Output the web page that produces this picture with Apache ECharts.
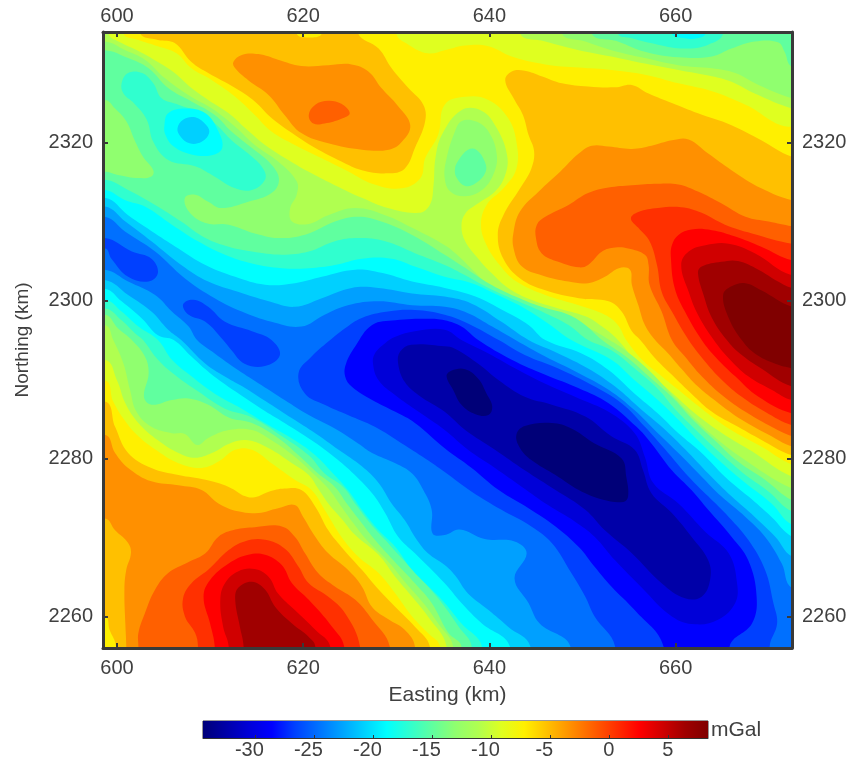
<!DOCTYPE html>
<html><head><meta charset="utf-8">
<style>html,body{margin:0;padding:0;background:#fff}#c{width:856px;height:763px}</style>
<script src="https://cdn.jsdelivr.net/npm/echarts@6/dist/echarts.min.js"></script></head>
<body><div id="c"></div><script>
// Band colours, low to high (2 mGal bands)
const bandColors=['#000078','#0000a8','#0000d8','#0000ff','#0040ff','#0070ff','#00a0ff','#00d0ff','#00ffff','#30ffcf','#60ff9f','#90ff6f','#b0ff50','#dfff20','#fff000','#ffc000','#ff9000','#ff6000','#ff3000','#ff0000','#d00000','#a00000','#800000'];
const baseBand=13;
const xTicks=[600,620,640,660];
const yTicks=[2260,2280,2300,2320];
const barTicks=[-30,-25,-20,-15,-10,-5,0,5];
const barRange=[-34.4,8.4];
// Contour rings in km (easting, northing); points beyond the frame only close a ring and are clipped
const hi14N=[[600.7,2333.8],[602.3,2333],[604.4,2332.2],[606.4,2331.3],[608,2329.4],[610.2,2327.9],[612.7,2325.8],[614.8,2323.5],[616.6,2321.4],[619.1,2319.7],[622,2318],[624.9,2316.3],[627.4,2314.8],[630.6,2314.2],[632.6,2315.5],[633.1,2318],[634.5,2321],[635.2,2324.8],[637.4,2325.8],[639.9,2325.4],[642,2323.1],[642.9,2320.1],[642.9,2316.7],[641.5,2314.2],[639.7,2312.1],[639.1,2309.6],[639.7,2307],[641.1,2304.5],[642.9,2302.4],[646,2300.7],[649.6,2299.4],[652.4,2298.2],[653.8,2296.9],[654.7,2295],[656.4,2292.5],[658.1,2290.8],[660.3,2288.7],[662.8,2286.3],[665.7,2283.8],[669.2,2281.5],[672.5,2279.2],[680,2276],[680,2325],[672.5,2322],[667.5,2324.8],[663.9,2326.5],[660.3,2327.5],[656.7,2328.6],[653.1,2329.2],[649.6,2329.5],[646,2329.9],[642.4,2330.9],[639.9,2332.2],[637.4,2332.3],[635.2,2331.7],[633.4,2331.3],[631.3,2332.4],[630,2333.8],[630,2340],[600.7,2340]];
const hi14SW=[[598.7,2289.9],[599.6,2287.2],[600.9,2284.7],[602.3,2282.8],[604.4,2280.9],[606.6,2279.4],[609.1,2278.8],[610.9,2279.6],[612.7,2281.1],[614.5,2281.1],[616.6,2279.4],[619.1,2277.3],[620.9,2276],[622.3,2273.5],[624.1,2270.1],[625.9,2267.6],[628.1,2265.5],[629.9,2262.9],[631.7,2260],[633.4,2257.9],[634.7,2256.2],[634.7,2250],[590,2250],[590,2290]];
const hi14Corner=[[598.7,2260],[599.2,2258.3],[599.9,2256.2],[599.9,2250],[590,2250],[590,2260]];
const hi15N=[[602.5,2333.8],[604.4,2333],[606.2,2332.6],[608,2330.2],[609.8,2328.8],[612.7,2326.9],[614.8,2325.2],[616.6,2323.1],[618.8,2321.2],[621.3,2319.3],[624.1,2317.6],[626.3,2316.5],[629.1,2316.1],[630.9,2316.7],[632,2319.3],[633.1,2322.7],[632.9,2324.8],[631.3,2326.9],[629.5,2329.4],[628.1,2331.9],[625.9,2333.8],[625.9,2338],[622,2338],[622,2333.8],[620.6,2333.3],[619.3,2333.8],[619.3,2338],[602.5,2338]];
const hi15E=[[641.7,2327.9],[642.4,2329],[643.8,2329.1],[645.6,2328.4],[647.8,2327.5],[650.6,2327.1],[653.5,2327],[655.3,2327.3],[657.1,2326.2],[659.6,2325],[662.4,2323.7],[666,2322.2],[669.2,2320.3],[672.5,2318.2],[680,2316],[680,2278],[672.5,2280.4],[669.6,2282.1],[666.7,2284],[663.9,2285.9],[661.7,2288.2],[659.6,2290.6],[657.8,2292.7],[656.2,2295],[655.3,2296.1],[654.2,2298.6],[652.8,2299.9],[649.6,2300.3],[646,2301.3],[643.3,2302.8],[641.5,2305.3],[640.9,2308.3],[641.5,2310.8],[643.3,2314.2],[644.5,2316.7],[644.8,2318.9],[644.2,2321],[643.6,2323.5],[642.6,2325.6]];
const hi15SW=[[598.7,2287.2],[599.8,2284],[601.2,2280.7],[603.7,2278.8],[606.6,2277.9],[609.5,2277.3],[612,2276.4],[613.8,2275.2],[614.8,2275.1],[616.3,2275.8],[618,2276.2],[619.8,2276],[621.3,2273.9],[622.7,2270.9],[624.1,2268.8],[626.3,2265.9],[628.1,2263.4],[629.9,2261.2],[632,2258.7],[633.6,2256.2],[633.6,2250],[590,2250],[590,2287]];
const hi16N=[[612.5,2330.2],[613.4,2331.1],[615.2,2331.2],[617.3,2330.5],[619.8,2329.7],[622.7,2329.8],[625.2,2329.9],[627,2329],[628.4,2326.9],[630.2,2324.6],[631.5,2322.2],[630.6,2320.1],[629.2,2319.1],[626.3,2319.1],[622.7,2319.9],[619.8,2321.2],[618,2323.5],[616.3,2326],[614.1,2327.9],[612.7,2329.4]];
const hi16E=[[647.6,2316.3],[649.6,2318.6],[651,2319.6],[652.8,2319.5],[655.3,2319.2],[657.4,2319.6],[659.6,2320.3],[661.4,2320.4],[663.5,2318.6],[666,2316.5],[669.2,2314.2],[672.5,2312.7],[680,2311],[680,2279],[672.5,2281.5],[670,2283],[667.1,2284.9],[664.6,2287],[662.4,2289.1],[660.6,2291.4],[659.2,2293.3],[657.8,2295],[656.7,2296.9],[656,2299.4],[655.3,2302],[655.1,2303.9],[653.9,2304.1],[652.4,2303],[650.6,2302.2],[648.5,2302.4],[645.6,2303.2],[643.5,2304.3],[642.6,2306.6],[642.6,2308.7],[643.3,2311.3],[645.3,2313.8]];
const hi16SW=[[598.7,2283],[599.8,2280.7],[601.2,2278.8],[603.7,2277.1],[606.6,2276.6],[609.1,2276],[610.9,2274.3],[613,2273.3],[615.2,2273.1],[617.3,2273.7],[619.1,2274.1],[620,2272.6],[621.3,2270.1],[622.7,2268],[624.8,2265.9],[626.3,2263.8],[627.4,2261.2],[629.2,2259.6],[630.9,2258.3],[632,2256.2],[632,2250],[601,2250],[601,2256.2],[600.9,2259.1],[600.8,2263.4],[601,2265.9],[601.5,2268],[601.2,2269.3],[599.8,2270.9],[598.7,2272.4],[590,2272],[590,2283]];
const hi17N=[[620.6,2323.5],[621.3,2324.8],[622.7,2325.3],[624.1,2324.9],[625,2323.7],[624.1,2323],[622.3,2322.4],[621.1,2322.4]];
const hi17E=[[645.1,2309.6],[646,2310.6],[648.5,2312.1],[650.6,2313.6],[652.8,2314.3],[655.3,2314.6],[658.1,2314.8],[660.3,2314.7],[662.4,2313.8],[664.9,2312.3],[667.5,2310.6],[670,2310],[672.5,2309.4],[680,2308],[680,2280],[672.5,2282.8],[670,2284.2],[667.5,2285.9],[665,2288],[662.8,2290.4],[661,2292.9],[659.6,2295],[658.5,2298.6],[657.2,2302],[657.1,2304.5],[656.7,2305.8],[654.9,2306.6],[653.5,2306.7],[652.1,2306.2],[650.6,2304.5],[649.6,2304.2],[647.4,2304.9],[645.6,2306],[645,2307.9]];
const hi17SW=[[602.3,2256.2],[602.3,2257.9],[603,2260.4],[604.1,2263.4],[605.5,2265.5],[607.7,2266.9],[609.5,2268],[610.9,2270.1],[612.7,2271],[614.8,2271.3],[617.7,2271.4],[619.1,2270.1],[620.2,2268],[621.6,2265.5],[623.4,2263.8],[625.6,2262.1],[627.4,2259.6],[629.3,2256.2],[629.3,2250],[602.3,2250]];
const hi18E=[[655.2,2310.4],[656,2311.2],[658.1,2311.7],[660.6,2311.8],[662.8,2311.1],[665.3,2309.6],[668.2,2308.5],[672.5,2307.2],[680,2306],[680,2282],[672.5,2284.2],[669.6,2285.9],[667.1,2287.8],[665,2289.9],[663,2292.5],[661.4,2295],[659.6,2298.6],[658.5,2301.1],[658,2304.5],[657.2,2307.5],[656,2309.2]];
const hi18SW=[[608.7,2256.2],[608.4,2257.9],[607.3,2260],[607.1,2262.3],[608,2264.2],[609.8,2265.9],[612,2268.4],[613.7,2269.5],[615.9,2269.7],[618,2268.6],[619.5,2266.3],[620.6,2264.2],[622.7,2262.5],[624.5,2260.4],[626.1,2256.2],[626.1,2250],[608.7,2250]];
const hi19E=[[659.5,2305.3],[659.6,2307],[660.3,2308.3],[661.7,2309],[663.9,2308.9],[666.4,2308.1],[669.2,2306.8],[672.5,2305.1],[680,2304],[680,2284],[672.5,2285.7],[668.9,2287.8],[666.4,2290.4],[664.4,2292.7],[662.8,2295],[661,2298.6],[659.9,2301.6]];
const hi19SW=[[610.5,2256.2],[610,2259.1],[609.3,2262.5],[610,2264.6],[612,2266.7],[614.1,2267.8],[615.9,2267.8],[617.7,2266.5],[618.8,2264.2],[620.6,2262.1],[623.1,2258.7],[624.4,2256.2],[624.4,2250],[610.5,2250]];
const hi20E=[[660.6,2304.5],[661.4,2306.2],[663.2,2307],[665.7,2307.2],[668.5,2306],[672.5,2303.2],[680,2302],[680,2286],[672.5,2287.4],[670.3,2288.7],[667.8,2290.4],[665.7,2292.7],[664.1,2295],[662.4,2298.2],[661.4,2301.1]];
const hi20SW=[[612,2256.2],[611.4,2258.7],[611.1,2262.1],[611.6,2264.2],[613,2265.7],[614.8,2266],[616.3,2265],[617.3,2262.9],[619.1,2260.8],[621.3,2258.3],[622.9,2256.2],[622.9,2250],[612,2250]];
const hi21E=[[662.4,2303.5],[662.8,2304.3],[664.9,2304.9],[666.7,2305],[668.9,2303.9],[671,2302.4],[672.5,2301.6],[680,2300],[680,2287],[672.5,2289.1],[669.2,2291.4],[666.9,2293.3],[665.5,2295],[663.9,2297.8],[663,2300.7]];
const hi21SW=[[613.6,2256.2],[613.2,2258.7],[612.7,2262.1],[613,2263.6],[614.5,2264.4],[615.9,2263.4],[617,2261.2],[618.8,2259.1],[620.6,2257.4],[621.3,2256.2],[621.3,2250],[613.6,2250]];
const hi22E=[[665.1,2300.7],[666,2301.8],[667.5,2302.2],[669.2,2301.3],[672.5,2299.2],[680,2297],[680,2289],[672.5,2291.4],[670.7,2292],[668.5,2293.3],[667.1,2295],[665.7,2297.8]];
const lo12=[[599.1,2333.8],[600.5,2332.6],[602.3,2331.6],[604.4,2330.2],[606.2,2328.8],[608,2326.9],[609.8,2325.4],[612,2323.7],[613.8,2321.8],[615.9,2319.7],[618.4,2317.8],[620.9,2316.1],[623.4,2314.6],[626.3,2313],[629.1,2311.7],[632.4,2311.1],[633.6,2312.1],[634,2314.6],[634.2,2318],[634.9,2321],[637,2324.1],[639.2,2324],[640.8,2321.8],[641.9,2318.4],[641.7,2315.9],[640.6,2313.8],[638.8,2312.3],[637.4,2311],[637,2309.4],[637.4,2307.5],[638.8,2305.3],[640.2,2303.5],[642,2301.6],[644.5,2300.1],[647.4,2299],[650.3,2298],[652.1,2296.7],[653.8,2295],[655.6,2292.5],[657.6,2290.4],[659.9,2288],[662.1,2285.7],[665,2283.2],[668.2,2280.9],[672.5,2277.7],[680,2275],[680,2248],[635.4,2248],[635.4,2256.2],[633.4,2260],[631.7,2262.5],[629.9,2265],[628.1,2267.8],[625.6,2270.3],[624.1,2272.4],[622.7,2274.3],[621.6,2276.2],[620.6,2277.9],[618.8,2279.4],[616.3,2281.3],[614.1,2282.3],[612.3,2282],[610.2,2280.7],[608.4,2280.1],[606.6,2280.7],[604.4,2282.3],[602.3,2284.5],[600.9,2287],[600,2289.9],[598.7,2292.5],[590,2292],[590,2340],[599.1,2340]];
const lo12b=[[643.3,2333.8],[646,2332.8],[649.6,2331.7],[653.1,2330.9],[656.7,2330],[660.3,2329.2],[663.9,2328.4],[666,2327.7],[668.5,2326.2],[672.5,2324.3],[680,2322],[680,2340],[643.3,2340]];
const dip11=[[635.4,2318],[636.3,2321.4],[637,2322.7],[638.5,2322.7],[639.9,2321.4],[640.8,2318.4],[640.4,2315.9],[639.2,2314],[637.4,2313.2],[635.8,2313.8],[635.2,2315.5]];
const dip10=[[636.3,2316.7],[636.7,2317.8],[637.7,2319.1],[638.6,2319.1],[639.5,2317.6],[639.6,2316.3],[638.6,2314.9],[637.4,2314.5],[636.5,2315.5]];
const lo11=[[598.7,2332.8],[600.9,2331.7],[603,2330.5],[605.2,2328.1],[607.7,2326],[610.2,2324.3],[612.7,2322],[614.8,2319.7],[617.3,2317.6],[619.3,2315.1],[619.3,2313.4],[618.6,2311.7],[618.8,2310],[620.6,2309.7],[622.7,2310.8],[625.6,2311.7],[628.8,2310.8],[631.7,2309.2],[635.2,2307],[636.7,2305.6],[638.5,2303.5],[640.2,2301.6],[642.8,2299.6],[645.3,2298.6],[648.5,2297.5],[651,2296.3],[652.9,2295],[654.6,2293.7],[657.1,2291.2],[659.2,2288.6],[661.4,2285.8],[663.9,2283],[667.1,2280.1],[672.5,2276.2],[680,2273],[680,2248],[636.1,2248],[636.1,2256.2],[634.5,2259.1],[632.9,2261.7],[630.9,2264.4],[629,2267.1],[626.8,2269.7],[625.4,2271.8],[624.1,2273.9],[622.7,2276.2],[620.9,2278.3],[618.9,2280.4],[616.6,2282.3],[614.5,2283.6],[612,2283.6],[609.8,2282.6],[608.6,2281.7],[607.3,2283.1],[605.9,2283.2],[603.7,2284],[602.1,2285.9],[601.4,2288.7],[600.7,2292],[599.6,2295],[598.7,2296.9],[590,2297],[590,2332.8]];
const lo11b=[[647.8,2333.8],[650.3,2332.8],[653.1,2331.7],[656.7,2330.7],[660.3,2329.8],[663.9,2329.4],[666.4,2328.8],[668.9,2327.3],[672.5,2325.6],[680,2323],[680,2340],[647.8,2340]];
const lo10=[[598.7,2331.7],[601.2,2330.7],[603.4,2329.4],[605.5,2326.9],[608,2325.2],[610.5,2323.5],[612.3,2321.4],[614.5,2319.3],[616.6,2317.2],[617.4,2315.3],[616.6,2313.6],[614.1,2312.5],[611.2,2311.7],[609.8,2312.5],[608.4,2313.4],[607.3,2313],[607.7,2311.3],[609.5,2309.8],[612,2309.6],[614.8,2308.5],[617.7,2307.9],[620.6,2308.5],[623.4,2310],[625.9,2310.6],[628.4,2310],[631.7,2308.3],[635.2,2305.8],[637.7,2303.9],[639.9,2302.2],[642.8,2300.5],[645.6,2299.2],[648.5,2298.2],[650.3,2296.9],[652.1,2295],[654.9,2292.7],[657.4,2290.1],[659.6,2287.8],[661.7,2285.1],[664.2,2282.3],[666.7,2279.6],[669.6,2277.3],[672.5,2274.7],[680,2271],[680,2248],[637,2248],[637,2256.2],[635.6,2257.9],[633.8,2261.7],[632,2264.2],[630,2266.7],[627.7,2269.7],[626.3,2271.8],[624.8,2274.1],[623.4,2276.4],[621.6,2278.1],[619.5,2280.4],[617.3,2282.6],[614.5,2284.5],[612,2285.2],[609.8,2286.8],[607.7,2287.6],[605.9,2287.4],[603.7,2286.8],[602.9,2287.8],[603.4,2290.8],[603,2292.9],[601.6,2295],[600.1,2296.5],[598.7,2298.2],[590,2298],[590,2331.7]];
const lo10b=[[651,2333.8],[653.8,2332.8],[656.7,2331.5],[660.3,2330.8],[663.9,2330.9],[666,2331.9],[668.5,2332.8],[671,2332.7],[671.7,2331.5],[672.5,2329.6],[680,2327],[680,2340],[651,2340]];
const isle11=[[598.7,2325.4],[599.8,2324.3],[601,2322.7],[601.9,2320.3],[602.8,2318.2],[603.9,2316.5],[603.7,2315.7],[602.3,2315.5],[600.1,2315.9],[598.7,2316.3],[590,2316],[590,2325]];
const lo9=[[598.7,2315.3],[601.2,2314],[604.1,2312.1],[606.9,2310],[609.5,2307.9],[612,2306.8],[614.5,2306.2],[617.7,2305.8],[620.6,2306.2],[623.4,2307.5],[625.9,2307.9],[628.8,2307.5],[632,2306],[635.2,2304.5],[637.4,2303.2],[639.9,2301.6],[643.1,2299.9],[646,2298.4],[648.5,2296.9],[650.6,2295],[653.1,2293.7],[655.8,2291.2],[658.1,2288.8],[659.9,2286.3],[662.1,2283.7],[664.6,2280.9],[667.1,2278.3],[670,2275.8],[672.5,2273.3],[680,2270],[680,2248],[638.1,2248],[638.1,2256.2],[636.7,2258.7],[634.9,2261.7],[633.1,2264.2],[631.1,2266.7],[628.8,2269.7],[627.2,2271.8],[625.7,2274.1],[624.3,2276.4],[622.3,2278.1],[620.6,2280.4],[618,2282.6],[614.5,2285.2],[611.6,2286.3],[608.7,2288.5],[606.2,2290.6],[604.4,2292.5],[602.8,2295],[601.9,2295.9],[600.5,2297.5],[598.7,2299],[590,2299],[590,2315]];
const lo9b=[[653.8,2333.8],[655.3,2333.2],[658.1,2332.4],[661,2331.9],[663.5,2332.4],[665.1,2333.8],[665.1,2340],[653.8,2340]];
const isle9=[[600.5,2327.5],[601.2,2328.8],[602.7,2328.8],[603.9,2327.5],[604.8,2325.6],[606.6,2324.8],[609.1,2323.7],[610.9,2322],[612.3,2320.3],[614.1,2318.6],[615.7,2316.7],[615.9,2315.3],[614.5,2314],[612.7,2314.2],[610.2,2315.9],[608.4,2317],[605.5,2317.8],[603.9,2320.1],[603.2,2322.9],[601.8,2325],[600.7,2326.2]];
const lo8=[[598.7,2314],[600.9,2312.7],[603,2311.9],[605.9,2309.6],[608.7,2307.5],[611.6,2305.8],[614.5,2304.7],[617.7,2304.1],[620.6,2304.1],[623.4,2304.5],[626.3,2305.3],[629.5,2305.3],[632,2304.3],[635.2,2303],[638.1,2302.2],[640.9,2300.7],[643.8,2299],[646.3,2297.1],[648.8,2295],[653.1,2292.5],[655.6,2289.9],[658.1,2287.4],[660.3,2284.9],[662.4,2282.3],[665,2279.4],[667.5,2276.9],[670.3,2274.3],[672.5,2271.6],[680,2268],[680,2248],[639.2,2248],[639.2,2256.2],[637,2259.1],[635.2,2261.7],[633.8,2263.4],[631.7,2265.9],[629.9,2268.8],[628.1,2270.9],[626.3,2273.5],[624.8,2276],[623.2,2278.1],[621.3,2280.4],[619.1,2282.3],[616.3,2284.2],[613.4,2286.3],[610.5,2288.2],[608,2290.4],[605.9,2292.5],[604.4,2295],[602.3,2296.7],[600.5,2298.6],[598.7,2300.1],[590,2300],[590,2314]];
const lo8b=[[659.6,2333.8],[661,2333.2],[662.3,2333.2],[663.2,2333.8],[663.2,2340],[659.6,2340]];
const isle8=[[605.1,2322.2],[605.5,2323.7],[607.3,2324.3],[609.5,2323.7],[610.9,2321.4],[611.3,2319.3],[610.2,2318.4],[608,2318.5],[606.1,2319.5],[605.2,2321]];
const isle7=[[606.5,2321.8],[607.1,2322.9],[608.4,2323.2],[609.6,2322.2],[609.9,2321.2],[609.1,2320.1],[607.8,2319.9],[606.8,2320.8]];
const lo7=[[598.7,2313],[601.2,2310.8],[604.1,2308.5],[606.6,2306.6],[609.5,2304.5],[612.7,2303],[615.9,2302],[619.1,2302.2],[622,2303],[625.6,2303.9],[628.4,2303.5],[631.7,2302.4],[635.2,2301.6],[638.5,2300.5],[641.7,2298.6],[644.2,2296.9],[646,2295],[649.9,2293.3],[652.8,2291.2],[655.6,2288.2],[658.1,2285.7],[660.3,2283.2],[662.8,2280.7],[665.3,2277.7],[667.8,2275.2],[670.3,2272.6],[672.5,2270.1],[680,2266],[680,2248],[642.2,2248],[642.2,2256.2],[639.2,2259.1],[637,2261.7],[635.2,2264.2],[632,2268],[630.2,2270.1],[628.8,2273.1],[627.4,2275.6],[625.2,2278.3],[623.1,2280.4],[620.9,2282.3],[618,2284.5],[615.5,2286.3],[612.7,2288.5],[610,2290.8],[608,2292.9],[606.1,2295],[604.4,2295.6],[602.7,2297.7],[600.5,2299.9],[598.7,2301.5],[590,2302],[590,2313]];
const lo6=[[598.7,2311.9],[600.9,2310],[603.7,2307.5],[606.9,2304.5],[609.8,2302.4],[613,2301.1],[616.3,2299.9],[619.1,2299.2],[622,2300.3],[625.2,2301.6],[628.1,2301.6],[631.7,2300.9],[635.2,2300.5],[638.1,2299.6],[641.3,2297.3],[644.2,2295],[647.4,2293.3],[650.6,2291.4],[653.5,2289.1],[656.4,2286.1],[658.9,2283.6],[661.4,2280.7],[663.5,2278.1],[666,2275.2],[668.5,2272.6],[670.7,2270.1],[672.5,2267.6],[680,2264],[680,2248],[644.4,2248],[644.4,2256.2],[642,2258.7],[639.9,2260.8],[637.7,2262.9],[636.3,2265.2],[635.2,2266.5],[633.4,2268],[632.2,2269.7],[630.9,2272.2],[629.5,2274.3],[628.1,2276.9],[626.3,2279],[623.8,2281.1],[621.3,2283.2],[618.8,2285.1],[616.3,2287],[613.8,2288.9],[612,2290.1],[609.5,2292],[606.9,2295],[605.5,2296.3],[603.7,2298.6],[601.2,2300.7],[598.7,2302.6],[590,2303],[590,2312]];
const lo5=[[598.7,2310.6],[600.9,2308.7],[604.1,2306.2],[607.3,2302.8],[610.5,2300.3],[613.4,2298.6],[616.6,2297.3],[619.8,2296.7],[622.3,2298.2],[624.8,2299.4],[628.1,2299.9],[631.7,2299.4],[635.2,2299.2],[637.7,2298.4],[640.3,2296.7],[642.8,2295],[646,2292.9],[649.6,2290.8],[652.8,2288.7],[655.6,2286.1],[658.1,2283.2],[660.3,2280.7],[662.8,2277.7],[664.9,2275.2],[667.5,2272.6],[669.6,2270.1],[671.4,2266.7],[672.5,2263.6],[680,2260],[680,2248],[648.7,2248],[648.7,2256.2],[645.4,2259.1],[644.2,2261.7],[642.7,2264.8],[644,2268],[642.7,2269.5],[639.5,2269.8],[636.8,2271],[635.2,2270.3],[633.9,2270.5],[633.8,2273.5],[632.9,2276],[631.7,2278.1],[629.9,2279.4],[627.4,2280.7],[625.9,2281.9],[623.4,2283.8],[620.6,2285.5],[618,2287.4],[615.5,2289.3],[613,2291.2],[610.5,2293.3],[608.6,2295],[607.7,2296.7],[605.9,2298.6],[604.1,2300.7],[601.2,2302.4],[598.7,2303.9],[590,2304],[590,2311]];
const isle4a=[[598.7,2307.9],[601.6,2306.2],[603.7,2305.3],[604.4,2303.5],[603.4,2302.4],[601.2,2303],[599.4,2305.3],[598.7,2306.6],[590,2306],[590,2308]];
const isle4b=[[607.1,2299.5],[608.2,2300.1],[609.8,2299.2],[611.6,2297.3],[614.5,2296.1],[616.6,2295],[617.5,2293.1],[615.9,2291.7],[613.7,2292],[612.3,2293.7],[611.4,2295],[609.5,2297.3],[607.7,2298.2]];
const lo4=[[619.5,2290.8],[620.9,2292.9],[622.7,2294.8],[624.5,2296.5],[626.3,2297.8],[629.1,2298.6],[632,2298.8],[635.2,2298.2],[637.7,2297.1],[641,2295],[643.8,2293.1],[647.4,2291.4],[651,2289.3],[654.2,2287],[656.7,2284],[659.2,2280.7],[661.4,2277.7],[663.5,2275.2],[665.7,2272.6],[667.8,2269.7],[669.6,2265.9],[670.5,2261.7],[670.9,2259.1],[670.1,2256.2],[670.1,2248],[653.5,2248],[653.5,2256.2],[651.3,2260],[650.3,2262.5],[648.8,2265.5],[646.7,2269.3],[644.5,2271.4],[641.3,2273.5],[638.1,2275.8],[635.2,2278.3],[633.1,2280],[630.6,2281.9],[627.7,2284],[624.8,2285.5],[622.3,2286.8],[620.2,2288.2]];
const lo3=[[624.5,2290.4],[624.6,2292],[625.6,2294.2],[627.4,2296.9],[629.9,2297.5],[633.4,2297.7],[635.2,2297.5],[637,2296.7],[638.8,2295],[642.4,2292.5],[646,2290.6],[649.6,2288.9],[652.8,2287],[655.8,2284],[657.4,2281.9],[659.6,2278.5],[661.7,2276],[663.5,2273.5],[666,2270.1],[667.8,2267.1],[668.7,2262.5],[668.2,2259.1],[665.8,2256.2],[665.8,2248],[658.7,2248],[658.7,2256.2],[655.6,2260.8],[653.1,2263.8],[651.3,2266.3],[649.6,2268.8],[647.1,2271.4],[644.2,2273.7],[641,2276],[638.1,2278.8],[635.2,2281.3],[632,2284.5],[629.9,2285.9],[627.4,2287.4],[625.2,2289.1]];
const lo2=[[627.5,2292],[627.7,2293.3],[628.8,2294.6],[629.9,2295.4],[632,2296.1],[635.2,2296.3],[637,2295],[639.9,2293.3],[643.1,2291.2],[646.3,2289.3],[649.6,2287.6],[652.8,2285.9],[655.6,2283.2],[656.7,2280.2],[657.6,2276.9],[660.3,2274.3],[663.2,2270.7],[665.7,2268],[666.6,2264.2],[666.4,2261.7],[664.6,2259.6],[662.1,2259],[659.6,2260],[656.4,2263.6],[653.5,2267.1],[651.3,2270.1],[649.2,2272],[646.3,2274.1],[643.5,2276.4],[640.6,2278.8],[637.7,2281.1],[635.2,2283.6],[632.4,2285.9],[629.9,2288],[628.1,2289.9]];
const lo1=[[630.2,2292],[630.4,2293.5],[631.6,2294.4],[635.2,2294.2],[636.3,2293.9],[638.8,2292],[641,2289.9],[643.8,2287.8],[646.7,2286.8],[650.3,2285.3],[653.1,2282.8],[655.6,2281.1],[656.5,2278.5],[657.4,2275.6],[659.6,2273.1],[661.7,2270.1],[663.5,2267.1],[663.7,2264.6],[662.8,2262.5],[661,2262.3],[658.5,2264.2],[655.3,2268],[652.4,2270.9],[650.3,2273.5],[647.1,2276],[643.8,2278.5],[640.6,2281.1],[637.4,2283.6],[635.2,2285.9],[632.4,2288],[630.9,2289.7]];
const lo0a=[[635.4,2290.4],[635.9,2291.1],[637.4,2291.3],[638.8,2290.1],[639.7,2288.2],[640.3,2286.6],[639.9,2285.5],[638.5,2285.6],[637,2286.8],[636.1,2288.7]];
const lo0b=[[642.9,2283],[643.8,2284.1],[646.7,2284.5],[648.8,2283.8],[651.3,2281.9],[654.2,2280],[654.7,2277.7],[654.9,2275.2],[654.4,2274.5],[652.1,2274.8],[649.6,2276],[647.1,2277.9],[644.5,2279.8],[643.3,2281.3]];
const layers=[[14,hi14N],[14,hi14SW],[15,hi15N],[15,hi15E],[15,hi15SW],[14,hi14Corner],[16,hi16N],[16,hi16E],[16,hi16SW],[17,hi17N],[17,hi17E],[17,hi17SW],[18,hi18E],[18,hi18SW],[19,hi19E],[19,hi19SW],[20,hi20E],[20,hi20SW],[21,hi21E],[21,hi21SW],[22,hi22E],
[12,lo12],[12,lo12b],[11,lo11],[11,lo11b],[11,dip11],[10,dip10],[10,lo10],[10,lo10b],[11,isle11],[9,lo9],[9,lo9b],[9,isle9],[8,lo8],[8,lo8b],[8,isle8],[7,isle7],[7,lo7],[6,lo6],[5,lo5],[4,isle4a],[4,isle4b],[4,lo4],[3,lo3],[2,lo2],[1,lo1],[0,lo0a],[0,lo0b]];

const font='"Liberation Sans", Arial, sans-serif', ink='#404040', frame='#3a3a3a';
function mapAxis(extra,margin){return Object.assign({type:'value',z:10,splitLine:{show:false},
  axisLine:{show:true,onZero:false,lineStyle:{color:frame,width:3}},
  axisTick:{show:true,inside:true,length:5,lineStyle:{color:frame,width:2}},
  axisLabel:{show:true,color:ink,fontFamily:font,fontSize:20,margin:margin,formatter:v=>String(v)}},extra);}
function withTicks(o,t){o.axisTick.customValues=t;o.axisLabel.customValues=t;return o;}
const chart=echarts.init(document.getElementById('c'),null,{renderer:'canvas'});
const xr={min:598.5,max:672.5}, yr={min:2256,max:2334};
chart.setOption({animation:false,backgroundColor:'#fff',
 title:{text:'mGal',left:711,top:720,padding:0,textStyle:{color:ink,fontFamily:font,fontSize:21,fontWeight:'normal'}},
 grid:[{left:103,right:64,top:32,bottom:115,show:true,backgroundColor:bandColors[baseBand],borderWidth:0},
       {left:203,right:148,top:721,height:17,show:true,borderWidth:1,borderColor:'#333'}],
 xAxis:[withTicks(mapAxis({gridIndex:0,position:'bottom',...xr,name:'Easting (km)',nameLocation:'middle',nameGap:37,nameTextStyle:{color:ink,fontFamily:font,fontSize:21}},10),xTicks),
        withTicks(mapAxis({gridIndex:0,position:'top',...xr},6),xTicks),
        {type:'value',gridIndex:1,min:barRange[0],max:barRange[1],z:10,splitLine:{show:false},
         axisLine:{show:true,lineStyle:{color:'#333',width:1}},
         axisTick:{show:true,inside:true,length:3,customValues:barTicks,lineStyle:{color:'#333'}},
         axisLabel:{show:true,customValues:barTicks,color:ink,fontFamily:font,fontSize:20,margin:2,formatter:v=>v<0?v+'  ':String(v)}}],
 yAxis:[withTicks(mapAxis({gridIndex:0,position:'left',...yr,name:'Northing (km)',nameLocation:'middle',nameGap:71,nameTextStyle:{color:ink,fontFamily:font,fontSize:19}},10),yTicks),
        withTicks(mapAxis({gridIndex:0,position:'right',...yr},10),yTicks),
        {type:'value',gridIndex:1,min:0,max:1,show:false}],
 series:[
  {type:'custom',coordinateSystem:'cartesian2d',xAxisIndex:0,yAxisIndex:0,clip:true,silent:true,
   data:layers.map((l,i)=>[i]),encode:{},
   renderItem:(p,api)=>{const l=layers[api.value(0)];
     return {type:'polygon',shape:{points:l[1].map(q=>api.coord(q)),smooth:0.4},style:{fill:bandColors[l[0]]}};}},
  {type:'custom',coordinateSystem:'cartesian2d',xAxisIndex:2,yAxisIndex:2,clip:true,silent:true,
   data:[barRange],
   renderItem:(p,api)=>{const a=api.coord([api.value(0),1]),b=api.coord([api.value(1),0]);
     return {type:'rect',shape:{x:a[0],y:a[1],width:b[0]-a[0],height:b[1]-a[1]},
       style:{fill:new echarts.graphic.LinearGradient(0,0,1,0,bandColors.map((c,i)=>({offset:i/(bandColors.length-1),color:c})))}};}}
 ]});
</script></body></html>
